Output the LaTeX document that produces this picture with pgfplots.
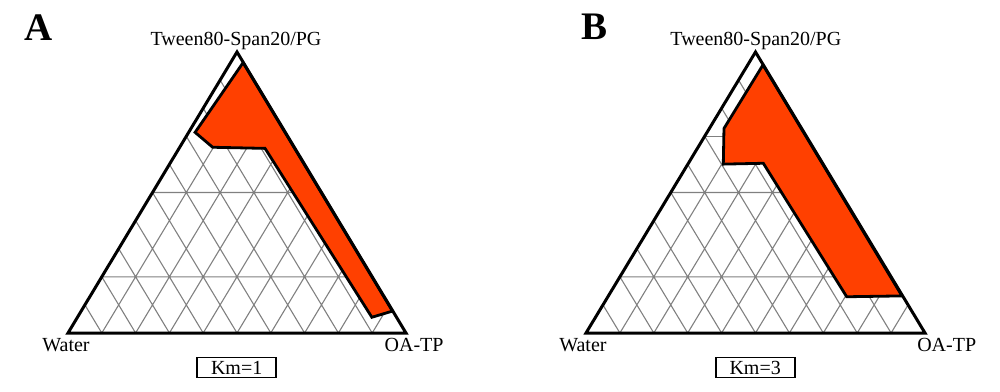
\documentclass[border=0pt]{standalone}
\usepackage{pgfplots}
\pgfplotsset{compat=1.18}
\usepackage{fontspec}
\setmainfont{Liberation Serif}
\definecolor{redc}{RGB}{255,64,0}
\definecolor{gridc}{RGB}{128,128,128}
\newcommand{\lattice}{%
\addplot[gridc, line width=0.55pt, unbounded coords=jump] coordinates {
(0.1,0) (0.55,0.9) (nan,nan) (0.2,0) (0.6,0.8) (nan,nan) (0.3,0) (0.65,0.7) (nan,nan)
(0.4,0) (0.7,0.6) (nan,nan) (0.5,0) (0.75,0.5) (nan,nan) (0.6,0) (0.8,0.4) (nan,nan)
(0.7,0) (0.85,0.3) (nan,nan) (0.8,0) (0.9,0.2) (nan,nan) (0.9,0) (0.95,0.1) (nan,nan)
(0.1,0) (0.05,0.1) (nan,nan) (0.2,0) (0.1,0.2) (nan,nan) (0.3,0) (0.15,0.3) (nan,nan)
(0.4,0) (0.2,0.4) (nan,nan) (0.5,0) (0.25,0.5) (nan,nan) (0.6,0) (0.3,0.6) (nan,nan)
(0.7,0) (0.35,0.7) (nan,nan) (0.8,0) (0.4,0.8) (nan,nan) (0.9,0) (0.45,0.9) (nan,nan)
(0.1,0.2) (0.9,0.2) (nan,nan) (0.25,0.5) (0.75,0.5)
};}
\pgfplotsset{tern/.style={scale only axis, axis lines=none, xmin=0, xmax=1, ymin=0, ymax=1,
  height=140.5pt, clip=false, anchor=south west,
  every node/.append style={font=\fontsize{9.5}{11}\selectfont}}}
\begin{document}
\begin{tikzpicture}
\path[use as bounding box] (0,0) rectangle (500pt,195.5pt);
% Panel A
\begin{axis}[tern, width=169pt, at={(34pt,29pt)}]
\lattice
\addplot[fill=redc, draw=black, line width=1.4pt] coordinates {
(0.518,0.962) (0.960,0.078) (0.899,0.056) (0.583,0.657) (0.428,0.661) (0.376,0.714)
} -- cycle;
\addplot[black, line width=1.5pt] coordinates {(0,0) (1,0) (0.5,1)} -- cycle;
\node at (axis cs:0.497,1.040) {Tween80-Span20/PG};
\node at (axis cs:-0.006,-0.043) {Water};
\node at (axis cs:1.024,-0.043) {OA-TP};
\node[draw=black, line width=0.9pt, minimum width=39.5pt, minimum height=10pt, inner sep=0pt] at (axis cs:0.499,-0.123) {Km=1};
\node[font=\fontsize{19.5}{22}\selectfont\bfseries] at (axis cs:-0.087,1.088) {A};
\end{axis}
% Panel B
\begin{axis}[tern, width=169.5pt, at={(293pt,29pt)}]
\lattice
\addplot[gridc, line width=0.55pt] coordinates {(0.35,0.7) (0.65,0.7)};
\addplot[fill=redc, draw=black, line width=1.4pt] coordinates {
(0.522,0.954) (0.932,0.132) (0.769,0.129) (0.523,0.604) (0.405,0.601) (0.407,0.728)
} -- cycle;
\addplot[black, line width=1.5pt] coordinates {(0,0) (1,0) (0.5,1)} -- cycle;
\node at (axis cs:0.501,1.040) {Tween80-Span20/PG};
\node at (axis cs:-0.009,-0.043) {Water};
\node at (axis cs:1.064,-0.043) {OA-TP};
\node[draw=black, line width=0.9pt, minimum width=39.5pt, minimum height=10pt, inner sep=0pt] at (axis cs:0.499,-0.123) {Km=3};
\node[font=\fontsize{19.5}{22}\selectfont\bfseries] at (axis cs:0.024,1.088) {B};
\end{axis}
\end{tikzpicture}
\end{document}
